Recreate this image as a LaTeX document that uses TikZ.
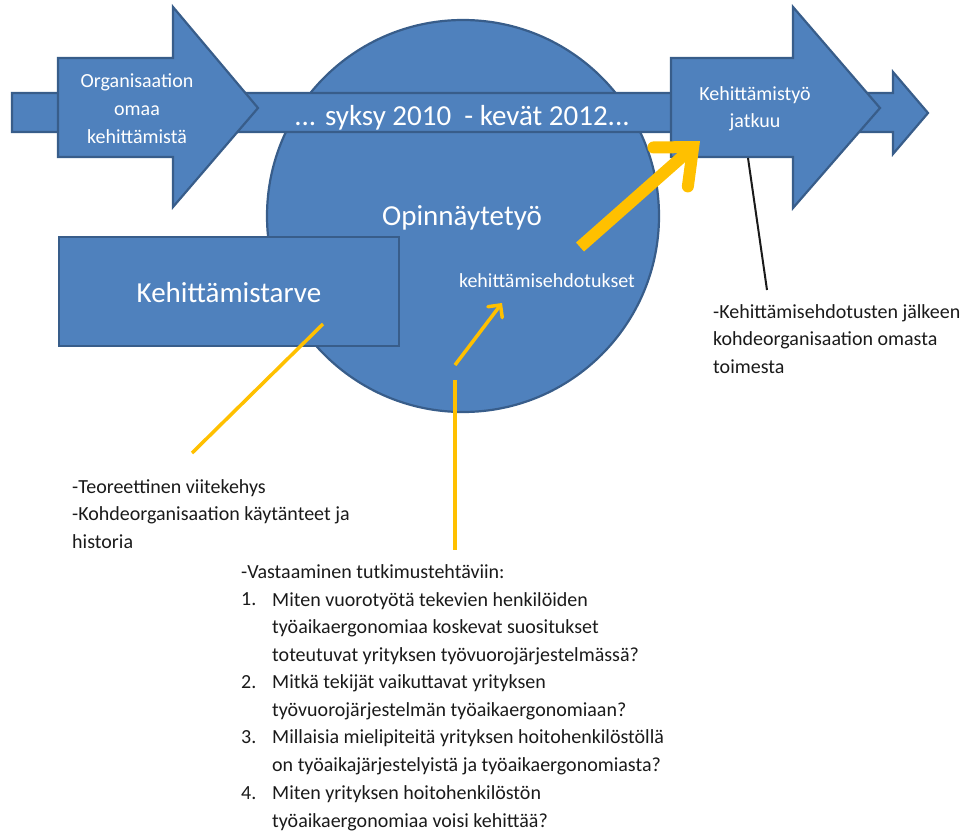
\documentclass[tikz,border=0pt]{standalone}
\usepackage{fontspec}
\setmainfont{Carlito}
\usetikzlibrary{arrows.meta}
\definecolor{blfill}{HTML}{4F81BD}
\definecolor{bledge}{HTML}{385D8A}
\definecolor{ylw}{HTML}{FFC000}
\definecolor{txt}{HTML}{1A1A1A}
\tikzset{
  bshape/.style={fill=blfill, draw=bledge, line width=2.2pt, line join=miter},
  wsmall/.style={text=white, font=\fontsize{20}{27.5}\selectfont, align=center, inner sep=0pt},
  wbig/.style={text=white, font=\fontsize{29}{34}\selectfont, inner sep=0pt},
  btext/.style={text=txt, font=\fontsize{20}{27.5}\selectfont, align=left, inner sep=0pt, anchor=base west},
  yline/.style={draw=ylw, line width=3.5pt},
  ythick/.style={draw=ylw, line width=12pt},
}
\begin{document}
\begin{tikzpicture}[x=1pt,y=-1pt]
\useasboundingbox (0,0) rectangle (963,832);
% circle
\draw[bshape] (463,216) circle (196);
% long band arrow
\draw[bshape] (12,93) -- (893,93) -- (893,72) -- (928,113) -- (893,154) -- (893,132) -- (12,132) -- cycle;
% left block arrow
\draw[bshape] (58,58) -- (173,58) -- (173,7) -- (258,108) -- (173,207) -- (173,157) -- (58,157) -- cycle;
% right block arrow
\draw[bshape] (671,58) -- (793,58) -- (793,7) -- (880,108) -- (793,208) -- (793,157) -- (671,157) -- cycle;
% rectangle
\draw[bshape] (59,237) rectangle (399,346);

% texts in shapes (base = baseline of last line)
\node[wsmall, anchor=base] (org) at (137,143) {Organisaation\\omaa\\kehittämistä};
\node[wsmall, anchor=base] (jatk) at (755,128) {Kehittämistyö\\jatkuu};
\node[wbig, anchor=base] (time) at (462,125) {... syksy 2010\ \ - kevät 2012...};
\node[wbig, anchor=base] (opin) at (462,225) {Opinnäytetyö};
\node[wsmall, anchor=base] (ehd) at (547,287) {kehittämisehdotukset};
\node[wbig, anchor=base] (tarve) at (229,302) {Kehittämistarve};

% connector coordinates
\coordinate (a1) at (323,324);
\coordinate (a2) at (192,453);
\coordinate (b1) at (455,365);
\coordinate (b2) at (502,303);
\coordinate (c1) at (455,380);
\coordinate (c2) at (455,550);
\coordinate (d1) at (580,247);
\coordinate (d2) at (700,141);
\coordinate (e1) at (748,158);
\coordinate (e2) at (767,290);

\draw[yline] (a1) -- (a2);
\draw[yline, -{Straight Barb[length=9pt,width=18pt,line cap=round]}] (b1) -- (b2);
\draw[yline] (c1) -- (c2);
\draw[ythick, -{Straight Barb[length=30pt,width=52pt,line cap=round]}] (d1) -- (d2);
\draw[txt, line width=2pt] (e1) -- (e2);

% outside texts (base = baseline of last line)
\node[btext] (right) at (713,373) {-Kehittämisehdotusten jälkeen\\kohdeorganisaation omasta\\toimesta};
\node[btext] (left) at (72,548) {-Teoreettinen viitekehys\\-Kohdeorganisaation käytänteet ja\\historia};
\node[btext] (vast) at (241,578) {-Vastaaminen tutkimustehtäviin:};
\node[btext] (n1) at (241,605) {1.};
\node[btext] (t1) at (272,661) {Miten vuorotyötä tekevien henkilöiden\\työaikaergonomiaa koskevat suositukset\\toteutuvat yrityksen työvuorojärjestelmässä?};
\node[btext] (n2) at (241,688) {2.};
\node[btext] (t2) at (272,716) {Mitkä tekijät vaikuttavat yrityksen\\työvuorojärjestelmän työaikaergonomiaan?};
\node[btext] (n3) at (241,743) {3.};
\node[btext] (t3) at (272,771) {Millaisia mielipiteitä yrityksen hoitohenkilöstöllä\\on työaikajärjestelyistä ja työaikaergonomiasta?};
\node[btext] (n4) at (241,799) {4.};
\node[btext] (t4) at (272,827) {Miten yrityksen hoitohenkilöstön\\työaikaergonomiaa voisi kehittää?};
\end{tikzpicture}
\end{document}
